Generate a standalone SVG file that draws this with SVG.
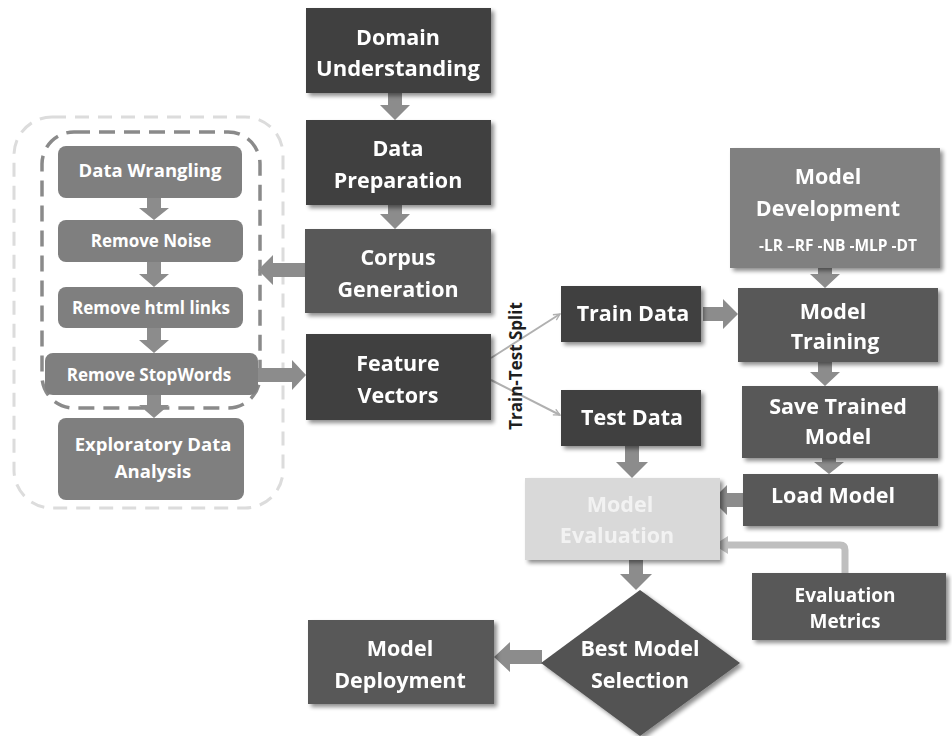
<svg xmlns="http://www.w3.org/2000/svg" width="952" height="736" viewBox="0 0 952 736">
<defs>
<filter id="sh" x="-10%" y="-10%" width="130%" height="130%">
<feGaussianBlur in="SourceAlpha" stdDeviation="2"/>
<feOffset dx="3" dy="3" result="b"/>
<feComponentTransfer><feFuncA type="linear" slope="0.45"/></feComponentTransfer>
<feMerge><feMergeNode/><feMergeNode in="SourceGraphic"/></feMerge>
</filter>
<marker id="thin" viewBox="0 0 10 10" refX="9" refY="5" markerWidth="8" markerHeight="8" orient="auto" markerUnits="userSpaceOnUse">
<path d="M1,1 L9,5 L1,9" fill="none" stroke="#b0b0b0" stroke-width="1.6"/>
</marker>
</defs>
<style>
text{font-family:"Open Sans","Noto Sans","Liberation Sans",sans-serif;font-weight:700;fill:#fff;text-anchor:middle}
.t{font-size:21.5px}
.s{font-size:17px}
.d1{fill:#404040}
.d2{fill:#595959}
.g{fill:#7f7f7f}
.ba{fill:#8c8c8c}
</style>
<rect width="952" height="736" fill="#fff"/>
<g id="containers" fill="none">
<rect x="14" y="117" width="269" height="391" rx="38" stroke="#dcdcdc" stroke-width="3" stroke-dasharray="14 9"/>
<rect x="42" y="132" width="218" height="276" rx="32" stroke="#8a8a8a" stroke-width="3.5" stroke-dasharray="16 9"/>
</g>
<g id="connectors">
<path class="ba" d="M388,93 h14 v12 h8 l-15,15 l-15,-15 h8 z"/>
<path class="ba" d="M388,205 h14 v9 h8 l-15,15 l-15,-15 h8 z"/>
<path class="ba" d="M147,198 h14 v10 h8 l-15,12 l-15,-12 h8 z"/>
<path class="ba" d="M147,262 h14 v12 h8 l-15,13 l-15,-13 h8 z"/>
<path class="ba" d="M147,328 h14 v12 h8 l-15,13 l-15,-13 h8 z"/>
<path class="ba" d="M147,395 h14 v10 h8 l-15,13 l-15,-13 h8 z"/>
<path class="ba" d="M818,268 h14 v6 h8 l-15,14 l-15,-14 h8 z"/>
<path class="ba" d="M818,362 h14 v10 h8 l-15,14 l-15,-14 h8 z"/>
<path class="ba" d="M822,458 h14 v4 h8 l-15,12 l-15,-12 h8 z"/>
<path class="ba" d="M625,446 h14 v16 h9 l-16,16 l-16,-16 h9 z"/>
<path class="ba" d="M629,560 h14 v14 h9 l-16,16 l-16,-16 h9 z"/>
<path class="ba" d="M305,263 v14 h-32 v8 l-15,-15 l15,-15 v8 z"/>
<path class="ba" d="M258,368 v14 h34 v8 l14,-15 l-14,-15 v8 z"/>
<path class="ba" d="M703,307 v14 h20 v8 l15,-15 l-15,-15 v8 z"/>
<path class="ba" d="M743,493 v14 h-16 v8 l-15,-15 l15,-15 v8 z"/>
<path class="ba" d="M542,650 v14 h-32 v8 l-16,-15 l16,-15 v8 z"/>
<line x1="491" y1="358" x2="560" y2="314" stroke="#b0b0b0" stroke-width="2" marker-end="url(#thin)"/>
<line x1="491" y1="380" x2="560" y2="415" stroke="#b0b0b0" stroke-width="2" marker-end="url(#thin)"/>
<path d="M845,573 V550 Q845,545 840,545 H728" fill="none" stroke="#bfbfbf" stroke-width="7"/>
<path d="M714,545 l14,-9 v18 z" fill="#bfbfbf"/>
</g>
<text transform="translate(522,366) rotate(-90)" style="fill:#1e1e1e;font-size:17px">Train-Test Split</text>
<g id="domain" filter="url(#sh)"><rect class="d1" x="306" y="8" width="185" height="85"/><text class="t" x="398" y="45">Domain</text><text class="t" x="398" y="76" style="font-size:22px">Understanding</text></g>
<g id="dataprep" filter="url(#sh)"><rect class="d1" x="306" y="120" width="185" height="85"/><text class="t" x="398" y="156">Data</text><text class="t" x="398" y="188">Preparation</text></g>
<g id="corpus" filter="url(#sh)"><rect class="d2" x="305" y="229" width="186" height="84"/><text class="t" x="398" y="265">Corpus</text><text class="t" x="398" y="297">Generation</text></g>
<g id="features" filter="url(#sh)"><rect class="d1" x="306" y="334" width="185" height="86"/><text class="t" x="398" y="371">Feature</text><text class="t" x="398" y="403">Vectors</text></g>
<g id="wrangling"><rect class="g" x="58" y="146" width="184" height="52" rx="8"/><text class="s" x="150" y="177" style="font-size:18.5px">Data Wrangling</text></g>
<g id="noise"><rect class="g" x="58" y="220" width="185" height="42" rx="8"/><text class="s" x="151" y="247">Remove Noise</text></g>
<g id="html"><rect class="g" x="58" y="287" width="185" height="41" rx="8"/><text class="s" x="151" y="314">Remove html links</text></g>
<g id="stopwords"><rect class="g" x="45" y="353" width="213" height="42" rx="8"/><text class="s" x="149" y="381">Remove StopWords</text></g>
<g id="eda"><rect class="g" x="58" y="418" width="186" height="82" rx="8"/><text class="s" x="153" y="451" style="font-size:18.5px">Exploratory Data</text><text class="s" x="153" y="478" style="font-size:18.5px">Analysis</text></g>
<g id="train" filter="url(#sh)"><rect class="d1" x="561" y="286" width="140" height="56"/><text class="t" x="633" y="321">Train Data</text></g>
<g id="test" filter="url(#sh)"><rect class="d1" x="561" y="390" width="140" height="56"/><text class="t" x="632" y="425">Test Data</text></g>
<g id="modeldev" filter="url(#sh)"><rect fill="#808080" x="730" y="148" width="210" height="120"/><text class="t" x="828" y="184">Model</text><text class="t" x="828" y="216">Development</text><text class="s" x="838" y="251" style="font-size:15.5px">-LR –RF -NB -MLP -DT</text></g>
<g id="training" filter="url(#sh)"><rect class="d2" x="738" y="288" width="200" height="74"/><text class="t" x="833" y="319">Model</text><text class="t" x="835" y="349">Training</text></g>
<g id="save" filter="url(#sh)"><rect class="d2" x="742" y="386" width="196" height="72"/><text class="t" x="838" y="414">Save Trained</text><text class="t" x="838" y="444">Model</text></g>
<g id="load" filter="url(#sh)"><rect class="d2" x="743" y="474" width="195" height="52"/><text class="t" x="833" y="503">Load Model</text></g>
<g id="evaluation" filter="url(#sh)"><rect fill="#d9d9d9" x="525" y="478" width="195" height="82"/><text class="t" x="620" y="512" style="fill:#f2f2f2">Model</text><text class="t" x="617" y="543" style="fill:#f2f2f2">Evaluation</text></g>
<g id="metrics" filter="url(#sh)"><rect class="d2" x="752" y="573" width="194" height="67"/><text class="s" x="845" y="602" style="font-size:19px">Evaluation</text><text class="s" x="845" y="628" style="font-size:19px">Metrics</text></g>
<g id="best" filter="url(#sh)"><path fill="#525252" d="M640,590 L740,663 L640,736 L541,663 Z"/><text class="t" x="640" y="656">Best Model</text><text class="t" x="640" y="688">Selection</text></g>
<g id="deploy" filter="url(#sh)"><rect class="d2" x="308" y="620" width="186" height="84"/><text class="t" x="400" y="656">Model</text><text class="t" x="400" y="688">Deployment</text></g>
</svg>
